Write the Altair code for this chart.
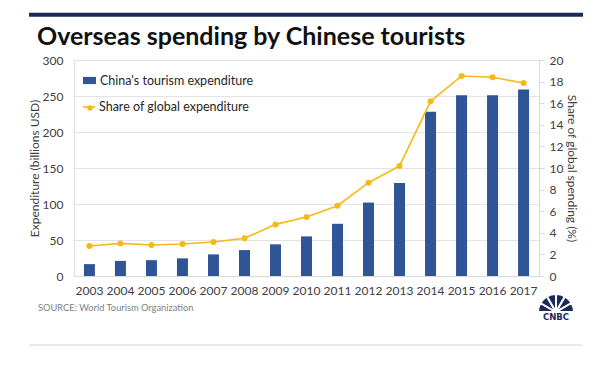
import altair as alt
import pandas as pd

years = [str(y) for y in range(2003, 2018)]
spend = [16.5, 21, 22, 24.5, 30, 36, 44, 55, 72.5, 102, 129, 228, 251, 251, 259]
share = [2.78, 3.02, 2.87, 2.96, 3.15, 3.49, 4.78, 5.46, 6.51, 8.64, 10.19, 16.17, 18.52, 18.4, 17.87]

bar_name = "China's tourism expenditure"
line_name = "Share of global expenditure"
title_text = "Overseas spending by Chinese tourists"
source_text = "SOURCE: World Tourism Organization"
feathers = [1, 1, 1, 1, 1, 1]

BLUE = "#2F5597"
GOLD = "#F5BA14"
NAVY = "#1B2A5C"
FONT = "Lato"

df = pd.DataFrame({"year": years, "spend": spend, "share": share,
                   "s1": bar_name, "s2": line_name})

x = alt.X("year:N", title=None, scale=alt.Scale(paddingInner=0.645, paddingOuter=0.32),
          axis=alt.Axis(labelAngle=0, ticks=False, domainColor="#D9D9D9",
                        labelFontSize=12, labelColor="#404040", labelPadding=9,
                        labelFont=FONT))

base = alt.Chart(df)

bars = base.mark_bar(size=11).encode(
    x=x,
    y=alt.Y("spend:Q", scale=alt.Scale(domain=[0, 300]),
            axis=alt.Axis(title="Expenditure (billions USD)", values=[0, 50, 100, 150, 200, 250, 300],
                          ticks=False, domain=False, gridColor="#E3E3E3",
                          labelFontSize=12, labelColor="#404040", labelPadding=11,
                          titleFontSize=12, titleFontWeight="normal", titleColor="#404040",
                          titlePadding=1, labelFont=FONT, titleFont=FONT)),
    fill=alt.Fill("s1:N", scale=alt.Scale(range=[BLUE]),
                  legend=alt.Legend(title=None, orient="none", legendX=8, legendY=13,
                                    symbolType="M-1,-0.55H1V0.55H-1Z", symbolSize=169,
                                    labelFontSize=12.5, labelColor="#262626", labelFont=FONT,
                                    padding=0, symbolOffset=0, labelOffset=3)),
)

yr = alt.Y("share:Q", scale=alt.Scale(domain=[0, 20]),
           axis=alt.Axis(orient="right", title="Share of global spending (%)",
                         values=list(range(0, 21, 2)), grid=False,
                         domainColor="#D9D9D9", tickColor="#D9D9D9", tickSize=5,
                         labelFontSize=12, labelColor="#404040", labelPadding=5,
                         titleFontSize=12, titleFontWeight="normal", titleColor="#404040",
                         titlePadding=2, labelFont=FONT, titleFont=FONT)),

yr = yr[0]

line = base.mark_line(strokeWidth=1.6).encode(
    x=x, y=yr,
    stroke=alt.Stroke("s2:N", scale=alt.Scale(range=[GOLD]),
                      legend=alt.Legend(title=None, orient="none", legendX=8, legendY=40,
                                        symbolType="stroke", symbolSize=150, symbolStrokeWidth=1.6,
                                        labelFontSize=12.5, labelColor="#262626", labelFont=FONT,
                                        padding=0, symbolOffset=0, labelOffset=3)),
)
pts = base.mark_point(filled=True, size=36, color=GOLD, opacity=1).encode(x=x, y=yr)

lines_layer = alt.layer(line, pts)

# legend dot for the line entry (sits on the legend stroke symbol)
legend_dot = alt.Chart(pd.DataFrame({"s": [line_name]})).mark_point(
    filled=True, size=30, color=GOLD, opacity=1).encode(x=alt.value(16), y=alt.value(48))

deco = alt.Chart(pd.DataFrame({"t": [title_text]}))
top_rule = deco.mark_rule(color=NAVY, strokeWidth=4).encode(
    x=alt.value(-45), x2=alt.value(509), y=alt.value(-45.3))
title = deco.mark_text(align="left", baseline="alphabetic", font=FONT, fontWeight="bold",
                       fontSize=25, color="#111111").encode(
    x=alt.value(-37), y=alt.value(-15), text="t:N")
src = alt.Chart(pd.DataFrame({"t": [source_text]})).mark_text(
    align="left", baseline="middle", font=FONT, fontSize=9.3, color="#7F7F7F").encode(
    x=alt.value(-36), y=alt.value(248), text="t:N")
bottom_rule = deco.mark_rule(color="#D0D0D0", strokeWidth=1).encode(
    x=alt.value(-45), x2=alt.value(508), y=alt.value(285))
logo = alt.Chart(pd.DataFrame({"f": feathers, "i": list(range(len(feathers)))})).mark_arc(
    outerRadius=18, innerRadius=3, stroke="white", strokeWidth=2, color=NAVY).encode(
    theta=alt.Theta("f:Q", stack=True, scale=alt.Scale(range=[-1.5708, 1.5708])),
    order="i:O",
    x=alt.value(482), y=alt.value(252))
logo_text = alt.Chart(pd.DataFrame({"t": ["CNBC"]})).mark_text(
    font="DejaVu Sans", fontWeight="bold", fontSize=8.5, color=NAVY, baseline="middle").encode(
    x=alt.value(482), y=alt.value(257), text="t:N")

main = alt.layer(bars, lines_layer).resolve_scale(y="independent")

chart = alt.layer(main, legend_dot, top_rule, title, src, bottom_rule, logo, logo_text).properties(
    width=465, height=216,
    autosize=alt.AutoSizeParams(type="none"),
    padding={"left": 66, "top": 52, "right": 53, "bottom": 81},
).configure_view(stroke=None).configure(background="white")

chart.save("out.html", embed_options={"renderer": "svg", "actions": False})
